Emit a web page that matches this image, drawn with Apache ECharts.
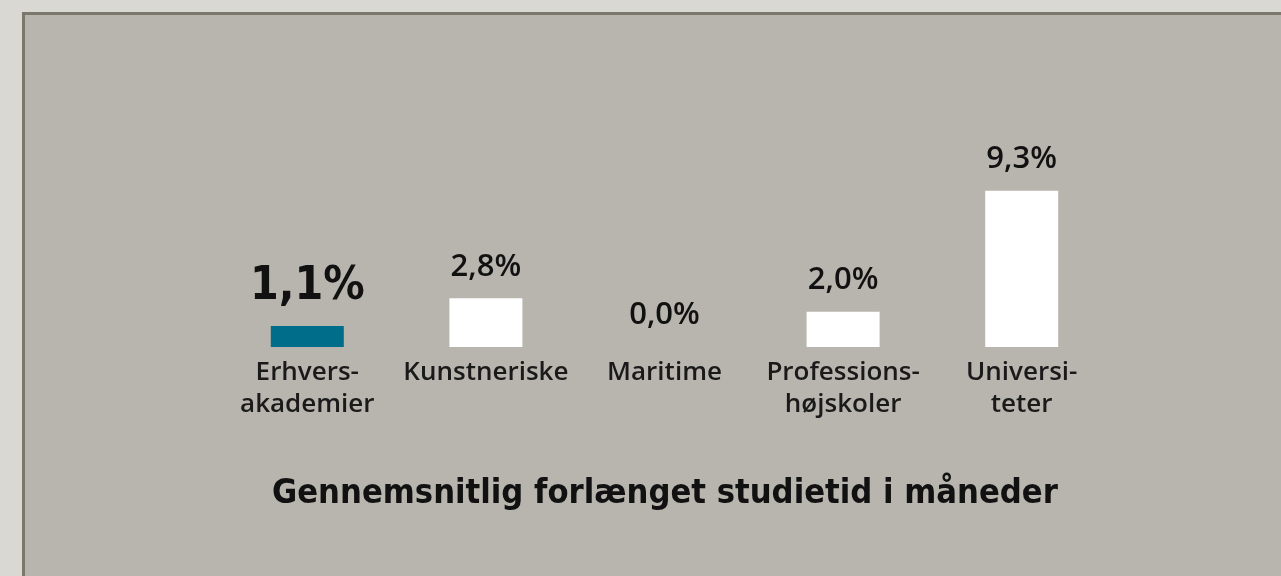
<!DOCTYPE html>
<html><head><meta charset="utf-8">
<script src="https://cdn.jsdelivr.net/npm/echarts@6/dist/echarts.min.js"></script>
<style>html,body{margin:0;padding:0;background:#d9d8d3}#c{width:1281px;height:576px}</style>
</head><body><div id="c"></div>
<script>
var categories = ['Erhvers-\nakademier', 'Kunstneriske', 'Maritime', 'Professions-\nhøjskoler', 'Universi-\nteter'];
var months = [1.25, 2.9, 0, 2.1, 9.3];
var percentLabels = ['1,1%', '2,8%', '0,0%', '2,0%', '9,3%'];
var title = 'Gennemsnitlig forlænget studietid i måneder';

var chart = echarts.init(document.getElementById('c'), null, {renderer: 'canvas'});
var data = months.map(function (v, i) {
  var item = {value: v, label: {formatter: percentLabels[i]}};
  if (i === 0) {
    item.itemStyle = {color: '#006e8a'};
    item.label = {formatter: percentLabels[i], fontFamily: 'DejaVu Sans Condensed', fontWeight: 'bold', fontSize: 46, color: '#111', distance: 16};
  }
  return item;
});
chart.setOption({
  backgroundColor: '#d9d8d3',
  animation: false,
  graphic: [{
    type: 'rect', z: -10,
    shape: {x: 23.5, y: 13.5, width: 1300, height: 600},
    style: {fill: '#b8b5ae', stroke: '#7a776c', lineWidth: 3}
  }],
  title: {
    text: title, left: 267, top: 472,
    textStyle: {fontFamily: 'DejaVu Sans Condensed', fontWeight: 'bold', fontSize: 34.2, color: '#111'}
  },
  grid: {left: 218, width: 893, top: 179, height: 168},
  xAxis: {
    type: 'category', data: categories,
    axisLine: {show: false}, axisTick: {show: false},
    axisLabel: {fontFamily: 'Open Sans', fontSize: 26, fontWeight: 600, color: '#1a1a1a', lineHeight: 32, margin: 10, interval: 0}
  },
  yAxis: {type: 'value', min: 0, max: 10, show: false, splitLine: {show: false}},
  series: [{
    type: 'bar', data: data, barWidth: 73,
    itemStyle: {color: '#ffffff'},
    label: {show: true, position: 'top', distance: 16, fontFamily: 'Open Sans', fontWeight: 600, fontSize: 31, color: '#111'}
  }]
});
</script></body></html>
